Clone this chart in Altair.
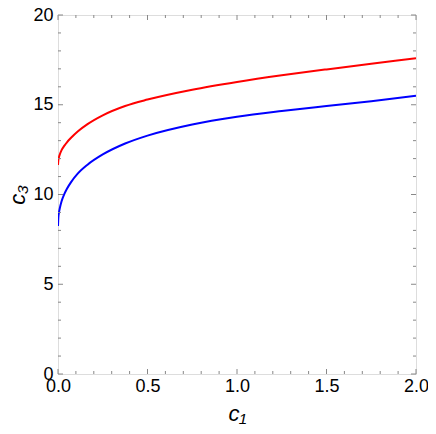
import altair as alt
import pandas as pd

# curve data
x_vals = [0.0, 0.002, 0.005, 0.01, 0.02, 0.037, 0.05, 0.073, 0.11, 0.165, 0.25, 0.375, 0.5, 0.75, 1.0, 1.25, 1.5, 1.75, 2.0]
red_vals = [11.65, 11.91, 12.06, 12.23, 12.47, 12.74, 12.91, 13.16, 13.51, 13.92, 14.41, 14.93, 15.29, 15.84, 16.27, 16.64, 16.97, 17.28, 17.59]
blue_vals = [8.25, 8.71, 8.98, 9.23, 9.62, 10.06, 10.32, 10.69, 11.16, 11.66, 12.23, 12.84, 13.28, 13.9, 14.33, 14.65, 14.93, 15.2, 15.5]

x_major = [0.0, 0.5, 1.0, 1.5, 2.0]
x_minor = [0.1, 0.2, 0.3, 0.4, 0.6, 0.7, 0.8, 0.9, 1.1, 1.2, 1.3, 1.4, 1.6, 1.7, 1.8, 1.9]
y_major = [0, 5, 10, 15, 20]
y_minor = [1, 2, 3, 4, 6, 7, 8, 9, 11, 12, 13, 14, 16, 17, 18, 19]

W, H = 358, 359
FRAME = "#888888"
FONT = "Liberation Sans"

df = pd.DataFrame({
    "c1": x_vals * 2,
    "c3": red_vals + blue_vals,
    "series": ["red"] * len(x_vals) + ["blue"] * len(x_vals),
})

xs = alt.Scale(domain=[0, 2], nice=False, zero=False)
ys = alt.Scale(domain=[0, 20], nice=False, zero=False)

xaxis = alt.Axis(values=x_major, format=".1f", ticks=False, domain=False, grid=False,
                 labelFontSize=18, labelColor="black", labelFont=FONT,
                 labelPadding=3, title="c₁", titleFontSize=22, titleFontStyle="italic",
                 titleFontWeight="normal", titleFont=FONT, titleColor="black",
                 titlePadding=8, labelFlush=False, labelOverlap=False)
yaxis = alt.Axis(values=y_major, format="d", ticks=False, domain=False, grid=False,
                 labelFontSize=18, labelColor="black", labelFont=FONT,
                 labelPadding=5, title="c₃", titleFontSize=22, titleFontStyle="italic",
                 titleFontWeight="normal", titleFont=FONT, titleColor="black",
                 titlePadding=3, labelFlush=False, labelOverlap=False)

lines = alt.Chart(df).mark_line(strokeWidth=2, interpolate="monotone", clip=True).encode(
    x=alt.X("c1:Q", scale=xs, axis=xaxis),
    y=alt.Y("c3:Q", scale=ys, axis=yaxis),
    color=alt.Color("series:N", scale=alt.Scale(domain=["red", "blue"], range=["#ff0000", "#0000ff"]), legend=None),
    detail="series:N",
)

def xticks(vals, length):
    d = pd.DataFrame({"c1": vals})
    bottom = alt.Chart(d).mark_rule(color=FRAME, strokeWidth=1).encode(
        x=alt.X("c1:Q"), y=alt.value(H), y2=alt.value(H - length))
    top = alt.Chart(d).mark_rule(color=FRAME, strokeWidth=1).encode(
        x=alt.X("c1:Q"), y=alt.value(0), y2=alt.value(length))
    return [bottom, top]

def yticks(vals, length):
    d = pd.DataFrame({"c3": vals})
    left = alt.Chart(d).mark_rule(color=FRAME, strokeWidth=1).encode(
        y=alt.Y("c3:Q"), x=alt.value(0), x2=alt.value(length))
    right = alt.Chart(d).mark_rule(color=FRAME, strokeWidth=1).encode(
        y=alt.Y("c3:Q"), x=alt.value(W), x2=alt.value(W - length))
    return [left, right]

layers = [lines] + xticks(x_major, 5) + xticks(x_minor, 3) + yticks(y_major, 5) + yticks(y_minor, 3)

chart = alt.layer(*layers).properties(
    width=W, height=H,
    autosize=alt.AutoSizeParams(type="none"),
    padding={"left": 50, "top": 7, "right": 12, "bottom": 50},
).configure_view(stroke=FRAME, strokeWidth=1).configure(background="white")

chart.save("out.html", embed_options={"renderer": "svg", "actions": False})
